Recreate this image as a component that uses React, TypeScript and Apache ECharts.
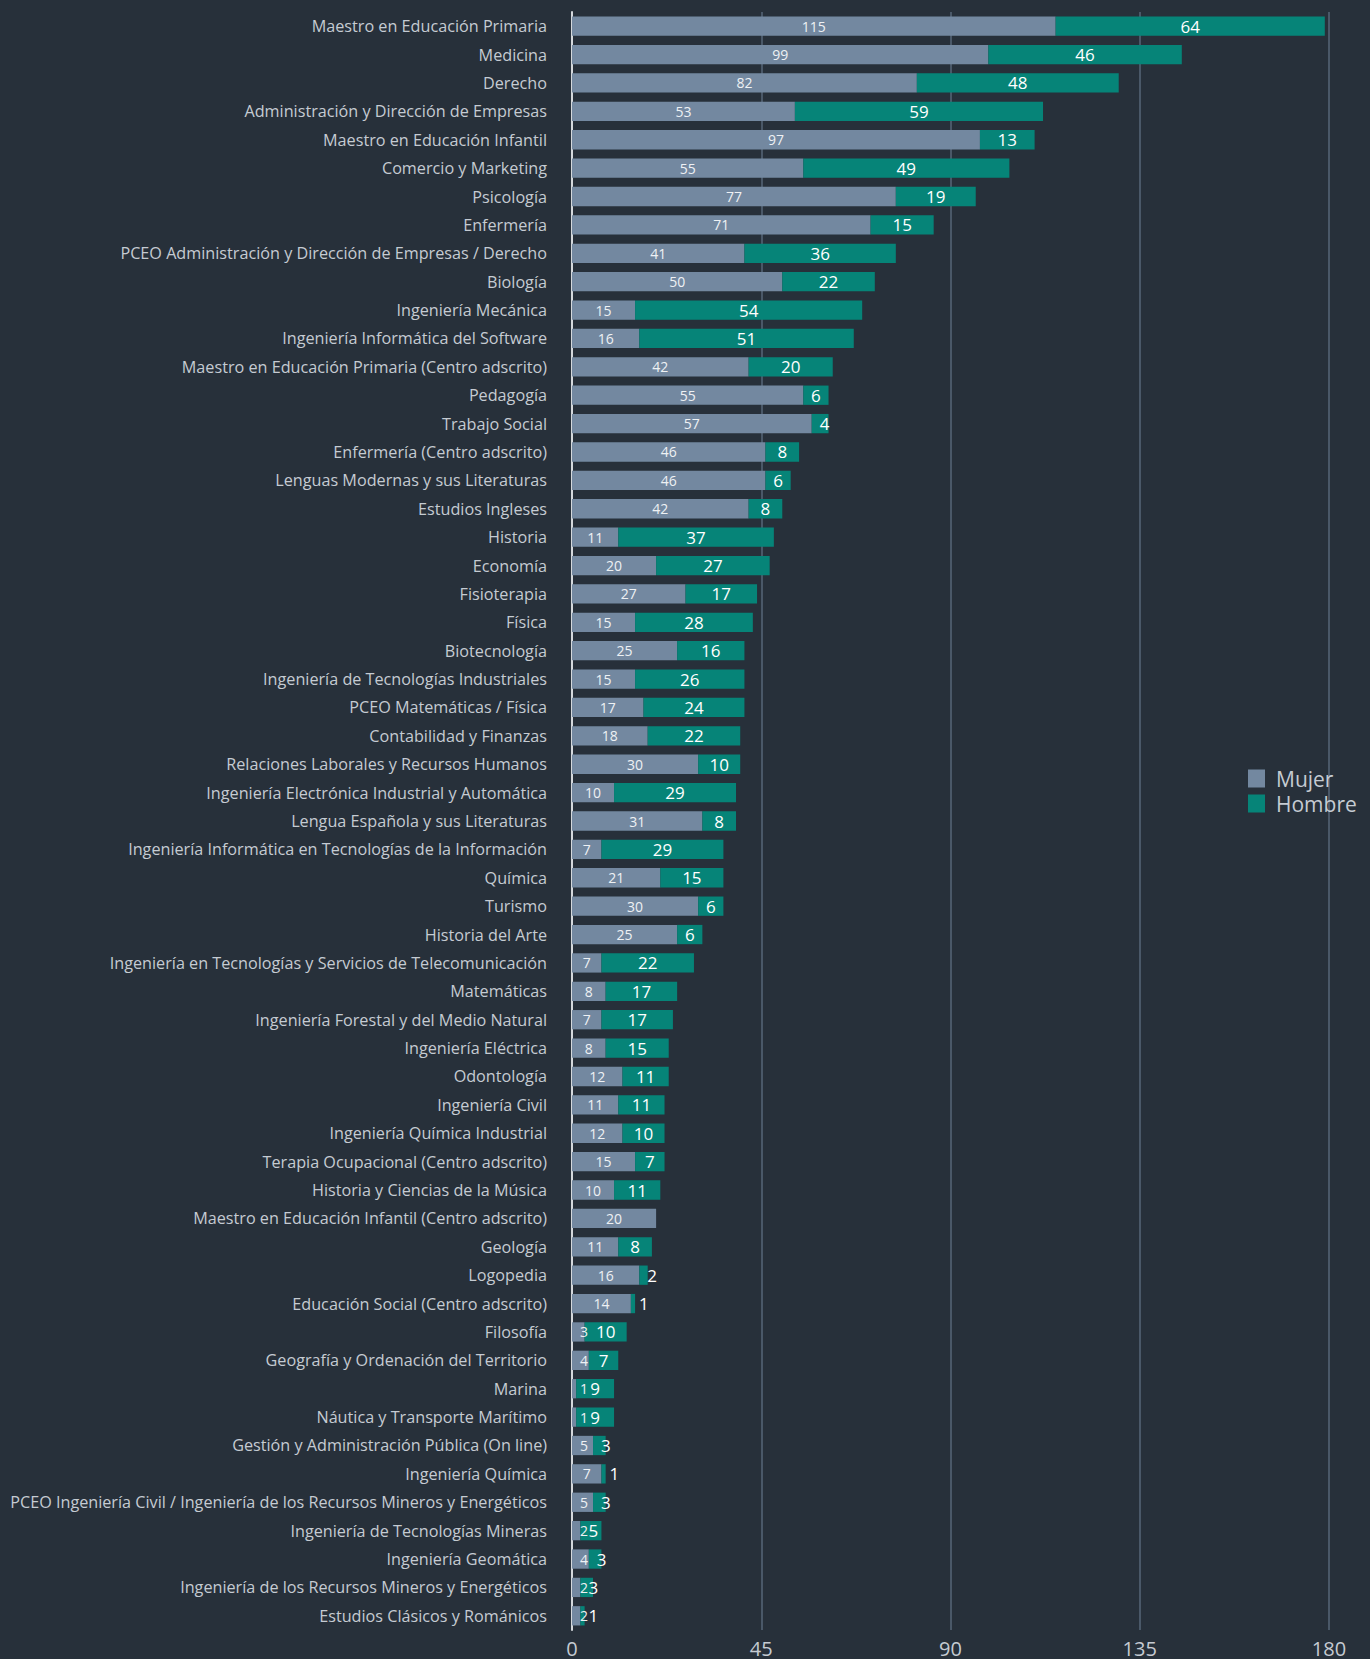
import React, { useEffect, useRef } from "react";
import * as echarts from "echarts";

const categories: string[] = [
  "Maestro en Educación Primaria",
  "Medicina",
  "Derecho",
  "Administración y Dirección de Empresas",
  "Maestro en Educación Infantil",
  "Comercio y Marketing",
  "Psicología",
  "Enfermería",
  "PCEO Administración y Dirección de Empresas / Derecho",
  "Biología",
  "Ingeniería Mecánica",
  "Ingeniería Informática del Software",
  "Maestro en Educación Primaria (Centro adscrito)",
  "Pedagogía",
  "Trabajo Social",
  "Enfermería (Centro adscrito)",
  "Lenguas Modernas y sus Literaturas",
  "Estudios Ingleses",
  "Historia",
  "Economía",
  "Fisioterapia",
  "Física",
  "Biotecnología",
  "Ingeniería de Tecnologías Industriales",
  "PCEO Matemáticas / Física",
  "Contabilidad y Finanzas",
  "Relaciones Laborales y Recursos Humanos",
  "Ingeniería Electrónica Industrial y Automática",
  "Lengua Española y sus Literaturas",
  "Ingeniería Informática en Tecnologías de la Información",
  "Química",
  "Turismo",
  "Historia del Arte",
  "Ingeniería en Tecnologías y Servicios de Telecomunicación",
  "Matemáticas",
  "Ingeniería Forestal y del Medio Natural",
  "Ingeniería Eléctrica",
  "Odontología",
  "Ingeniería Civil",
  "Ingeniería Química Industrial",
  "Terapia Ocupacional (Centro adscrito)",
  "Historia y Ciencias de la Música",
  "Maestro en Educación Infantil (Centro adscrito)",
  "Geología",
  "Logopedia",
  "Educación Social (Centro adscrito)",
  "Filosofía",
  "Geografía y Ordenación del Territorio",
  "Marina",
  "Náutica y Transporte Marítimo",
  "Gestión y Administración Pública (On line)",
  "Ingeniería Química",
  "PCEO Ingeniería Civil / Ingeniería de los Recursos Mineros y Energéticos",
  "Ingeniería de Tecnologías Mineras",
  "Ingeniería Geomática",
  "Ingeniería de los Recursos Mineros y Energéticos",
  "Estudios Clásicos y Románicos",
];

const mujer: number[] = [
  115, 99, 82, 53, 97, 55, 77, 71, 41, 50, 15, 16, 42, 55, 57, 46, 46, 42, 11, 20,
  27, 15, 25, 15, 17, 18, 30, 10, 31, 7, 21, 30, 25, 7, 8, 7, 8, 12, 11, 12, 15, 10,
  20, 11, 16, 14, 3, 4, 1, 1, 5, 7, 5, 2, 4, 2, 2,
];

const hombre: (number | null)[] = [
  64, 46, 48, 59, 13, 49, 19, 15, 36, 22, 54, 51, 20, 6, 4, 8, 6, 8, 37, 27, 17, 28,
  16, 26, 24, 22, 10, 29, 8, 29, 15, 6, 6, 22, 17, 17, 15, 11, 11, 10, 7, 11, null,
  8, 2, 1, 10, 7, 9, 9, 3, 1, 3, 5, 3, 3, 1,
];

const xTicks: number[] = [0, 45, 90, 135, 180];

const BG = "#27303a";
const MUJER_COLOR = "#7388a0";
const HOMBRE_COLOR = "#068478";
const TEXT_COLOR = "#c5cbd2";
const FONT = "'Open Sans', 'Noto Sans', sans-serif";

function toItems(values: (number | null)[]) {
  return values.map((v) => {
    if (v === null) return { value: null };
    if (v <= 5) {
      return {
        value: v,
        label: { position: "insideLeft", distance: 8 },
      };
    }
    return { value: v };
  });
}

export default function App() {
  const ref = useRef<HTMLDivElement>(null);

  useEffect(() => {
    if (!ref.current) return;
    const chart = echarts.init(ref.current, null, { renderer: "svg" });
    const option: any = {
      animation: false,
      backgroundColor: BG,
      textStyle: { fontFamily: FONT },
      legend: {
        orient: "vertical",
        left: 1248,
        top: 768,
        padding: 0,
        itemWidth: 17,
        itemHeight: 18,
        itemGap: 4,
        icon: "rect",
        data: ["Mujer", "Hombre"],
        textStyle: { color: TEXT_COLOR, fontSize: 21, fontFamily: FONT, padding: [0, 0, 0, 6] },
      },
      grid: {
        left: 572,
        right: 41,
        top: 12,
        height: 1618,
        containLabel: false,
      },
      xAxis: {
        type: "value",
        min: xTicks[0],
        max: xTicks[xTicks.length - 1],
        interval: xTicks[1] - xTicks[0],
        axisLine: { show: false },
        axisTick: { show: false },
        axisLabel: { color: TEXT_COLOR, fontSize: 20, margin: 8, fontFamily: FONT },
        splitLine: { show: true, lineStyle: { color: "#4a5868", width: 2 } },
      },
      yAxis: {
        type: "category",
        inverse: true,
        data: categories,
        axisLine: { show: true, lineStyle: { color: "#d4d8dc", width: 2 } },
        axisTick: { show: false },
        axisLabel: {
          color: TEXT_COLOR,
          fontSize: 16.2,
          margin: 25,
          fontFamily: FONT,
          padding: [0, 0, 3, 0],
        },
        splitLine: { show: false },
      },
      series: [
        {
          name: "Mujer",
          type: "bar",
          stack: "total",
          data: toItems(mujer),
          barCategoryGap: "32%",
          itemStyle: { color: MUJER_COLOR },
          label: {
            show: true,
            position: "inside",
            color: "#eef1f4",
            fontSize: 14,
            fontFamily: FONT,
          },
        },
        {
          name: "Hombre",
          type: "bar",
          stack: "total",
          data: toItems(hombre),
          barCategoryGap: "32%",
          itemStyle: { color: HOMBRE_COLOR },
          label: {
            show: true,
            position: "inside",
            color: "#ffffff",
            fontSize: 17,
            fontFamily: FONT,
          },
        },
      ],
    };
    chart.setOption(option);
    return () => chart.dispose();
  }, []);

  return (
    <div
      ref={ref}
      style={{ position: "absolute", left: 0, top: 0, width: 1370, height: 1659 }}
    />
  );
}
